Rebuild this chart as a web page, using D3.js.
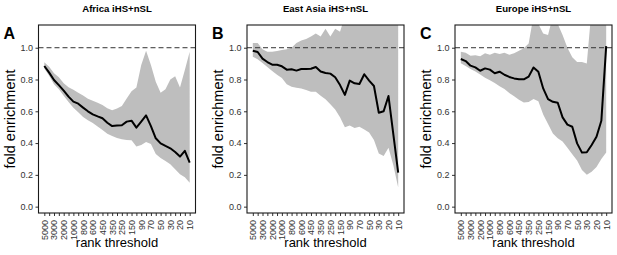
<!DOCTYPE html>
<html>
<head>
<meta charset="utf-8">
<script src="https://cdn.jsdelivr.net/npm/d3@7"></script>
<style>
  body { margin: 0; background: #fff; }
  svg { display: block; font-family: "Liberation Sans", Arial, sans-serif; }
</style>
</head>
<body>
<svg id="chart" width="617" height="255"></svg>
<script>
// rank thresholds on the x axis (labels shown on every other tick)
var thresholds = [5000, 4000, 3000, 2500, 2000, 1500, 1000, 900, 800, 700, 600, 500, 450, 400, 350,
  300, 250, 200, 150, 100, 90, 80, 70, 60, 50, 40, 30, 25, 20, 15, 10];
var yTicks = [0, 0.2, 0.4, 0.6, 0.8, 1.0];

var panelTitles = ["Africa iHS+nSL", "East Asia iHS+nSL", "Europe iHS+nSL"];
var panelLetters = ["A", "B", "C"];

var africaFold = [0.885, 0.843, 0.797, 0.765, 0.730, 0.692, 0.661, 0.648, 0.623, 0.600, 0.581, 0.568, 0.556, 0.528, 0.507,
  0.510, 0.512, 0.535, 0.541, 0.497, 0.535, 0.574, 0.507, 0.430, 0.398, 0.382, 0.367, 0.344, 0.315, 0.351, 0.277];
var africaLow = [0.870, 0.824, 0.770, 0.738, 0.698, 0.658, 0.623, 0.594, 0.564, 0.543, 0.526, 0.505, 0.482, 0.459, 0.445,
  0.432, 0.424, 0.420, 0.417, 0.378, 0.388, 0.407, 0.394, 0.331, 0.306, 0.287, 0.266, 0.235, 0.204, 0.185, 0.151];
var africaHigh = [0.908, 0.881, 0.839, 0.814, 0.776, 0.751, 0.736, 0.717, 0.700, 0.679, 0.667, 0.654, 0.640, 0.619, 0.606,
  0.617, 0.633, 0.680, 0.726, 0.750, 0.891, 0.981, 0.891, 0.786, 0.717, 0.738, 0.800, 0.820, 0.750, 0.860, 0.975];

var eastAsiaFold = [0.981, 0.973, 0.931, 0.910, 0.893, 0.893, 0.883, 0.862, 0.864, 0.856, 0.866, 0.866, 0.868, 0.879, 0.850,
  0.841, 0.837, 0.814, 0.765, 0.703, 0.793, 0.776, 0.772, 0.833, 0.793, 0.759, 0.591, 0.600, 0.696, 0.455, 0.214];
var eastAsiaLow = [0.943, 0.927, 0.904, 0.879, 0.854, 0.830, 0.810, 0.770, 0.755, 0.748, 0.744, 0.734, 0.723, 0.723, 0.698,
  0.675, 0.644, 0.612, 0.562, 0.499, 0.510, 0.495, 0.503, 0.486, 0.466, 0.419, 0.335, 0.319, 0.370, 0.260, 0.120];
var eastAsiaHigh = [1.03, 1.03, 0.99, 0.975, 0.975, 0.98, 0.985, 0.99, 1.0, 1.03, 1.045, 1.055, 1.07, 1.09, 1.07,
  1.12, 1.07, 1.12, 1.10, 1.2, 1.25, 1.25, 1.25, 1.25, 1.25, 1.25, 1.25, 1.25, 1.25, 1.25, 1.25];

var europeFold = [0.929, 0.916, 0.887, 0.876, 0.855, 0.870, 0.862, 0.839, 0.849, 0.830, 0.816, 0.807, 0.801, 0.801, 0.818,
  0.876, 0.849, 0.744, 0.677, 0.660, 0.654, 0.562, 0.516, 0.503, 0.398, 0.340, 0.342, 0.388, 0.440, 0.540, 1.010];
var europeLow = [0.902, 0.885, 0.866, 0.851, 0.832, 0.811, 0.795, 0.778, 0.757, 0.740, 0.715, 0.694, 0.673, 0.656, 0.658,
  0.677, 0.663, 0.580, 0.520, 0.460, 0.430, 0.410, 0.370, 0.330, 0.290, 0.230, 0.200, 0.220, 0.250, 0.300, 0.340];
var europeHigh = [0.975, 0.969, 0.950, 0.952, 0.946, 0.965, 0.956, 0.969, 0.960, 0.969, 0.956, 0.965, 0.981, 0.996, 1.027,
  1.2, 1.15, 1.09, 1.08, 1.2, 1.15, 1.08, 1.00, 0.94, 0.91, 0.91, 0.90, 1.25, 1.25, 1.25, 1.25];

var series = [
  { fold: africaFold, low: africaLow, high: africaHigh },
  { fold: eastAsiaFold, low: eastAsiaLow, high: eastAsiaHigh },
  { fold: europeFold, low: europeLow, high: europeHigh }
];

var svg = d3.select("#chart");
var panelLefts = [38.5, 247, 455],
  panelWidth = 157,
  plotTop = 25,
  plotBottom = 213;

var y = d3.scaleLinear().domain([-0.04, 1.143]).range([plotBottom, plotTop]);

series.forEach(function(s, p) {
  var left = panelLefts[p], right = left + panelWidth;
  var g = svg.append("g");

  var x = d3.scalePoint()
    .domain(d3.range(thresholds.length))
    .range([left, right])
    .padding(1.2);

  var rows = thresholds.map(function(t, i) {
    return { i: i, t: t, fold: s.fold[i], low: s.low[i], high: s.high[i] };
  });

  g.append("clipPath").attr("id", "clip-" + p)
    .append("rect")
      .attr("x", left).attr("y", plotTop)
      .attr("width", panelWidth).attr("height", plotBottom - plotTop);

  var plot = g.append("g").attr("clip-path", "url(#clip-" + p + ")");

  plot.append("path")
    .datum(rows)
    .attr("fill", "#bebebe")
    .attr("d", d3.area()
      .x(function(d) { return x(d.i); })
      .y0(function(d) { return y(d.low); })
      .y1(function(d) { return y(d.high); }));

  plot.append("line")
    .attr("x1", left).attr("x2", right)
    .attr("y1", y(1)).attr("y2", y(1))
    .attr("stroke", "#333")
    .attr("stroke-width", 1)
    .attr("stroke-dasharray", "5,3");

  plot.append("path")
    .datum(rows)
    .attr("fill", "none")
    .attr("stroke", "#000")
    .attr("stroke-width", 2)
    .attr("stroke-linejoin", "round")
    .attr("d", d3.line()
      .x(function(d) { return x(d.i); })
      .y(function(d) { return y(d.fold); }));

  // y axis
  var yAxis = g.append("g")
    .attr("transform", "translate(" + left + ",0)")
    .call(d3.axisLeft(y).tickValues(yTicks).tickSize(3).tickPadding(2.5)
      .tickFormat(d3.format(".1f")));
  yAxis.select(".domain").remove();
  yAxis.selectAll("line").attr("stroke", "#333");
  yAxis.selectAll("text").attr("fill", "#333").style("font-size", "9px")
    .style("font-family", "'Liberation Sans', Arial, sans-serif");

  // x axis
  var xAxis = g.append("g")
    .attr("transform", "translate(0," + plotBottom + ")")
    .call(d3.axisBottom(x).tickSize(3).tickPadding(2)
      .tickFormat(function(i) { return i % 2 === 0 ? thresholds[i] : ""; }));
  xAxis.select(".domain").remove();
  xAxis.selectAll("line").attr("stroke", "#333");
  xAxis.selectAll("text")
    .attr("fill", "#333")
    .style("font-size", "9px")
    .style("font-family", "'Liberation Sans', Arial, sans-serif")
    .attr("text-anchor", "end")
    .attr("transform", "rotate(-90)")
    .attr("x", -7)
    .attr("y", 0)
    .attr("dy", "0.33em");

  // frame
  g.append("rect")
    .attr("x", left).attr("y", plotTop)
    .attr("width", panelWidth).attr("height", plotBottom - plotTop)
    .attr("fill", "none")
    .attr("stroke", "#1a1a1a")
    .attr("stroke-width", 1.1);

  g.append("text")
    .attr("x", (left + right) / 2).attr("y", 11.5)
    .attr("text-anchor", "middle")
    .style("font-size", "9.6px").style("font-weight", "bold")
    .text(panelTitles[p]);

  g.append("text")
    .attr("x", left - 35).attr("y", 38.5)
    .style("font-size", "16px").style("font-weight", "bold")
    .text(panelLetters[p]);

  g.append("text")
    .attr("x", (left + right) / 2).attr("y", 246.5)
    .attr("text-anchor", "middle")
    .style("font-size", "13px")
    .text("rank threshold");

  g.append("text")
    .attr("transform", "translate(" + (left - 24) + "," + ((plotTop + plotBottom) / 2) + ") rotate(-90)")
    .attr("text-anchor", "middle")
    .style("font-size", "14.5px")
    .text("fold enrichment");
});
</script>
</body>
</html>
